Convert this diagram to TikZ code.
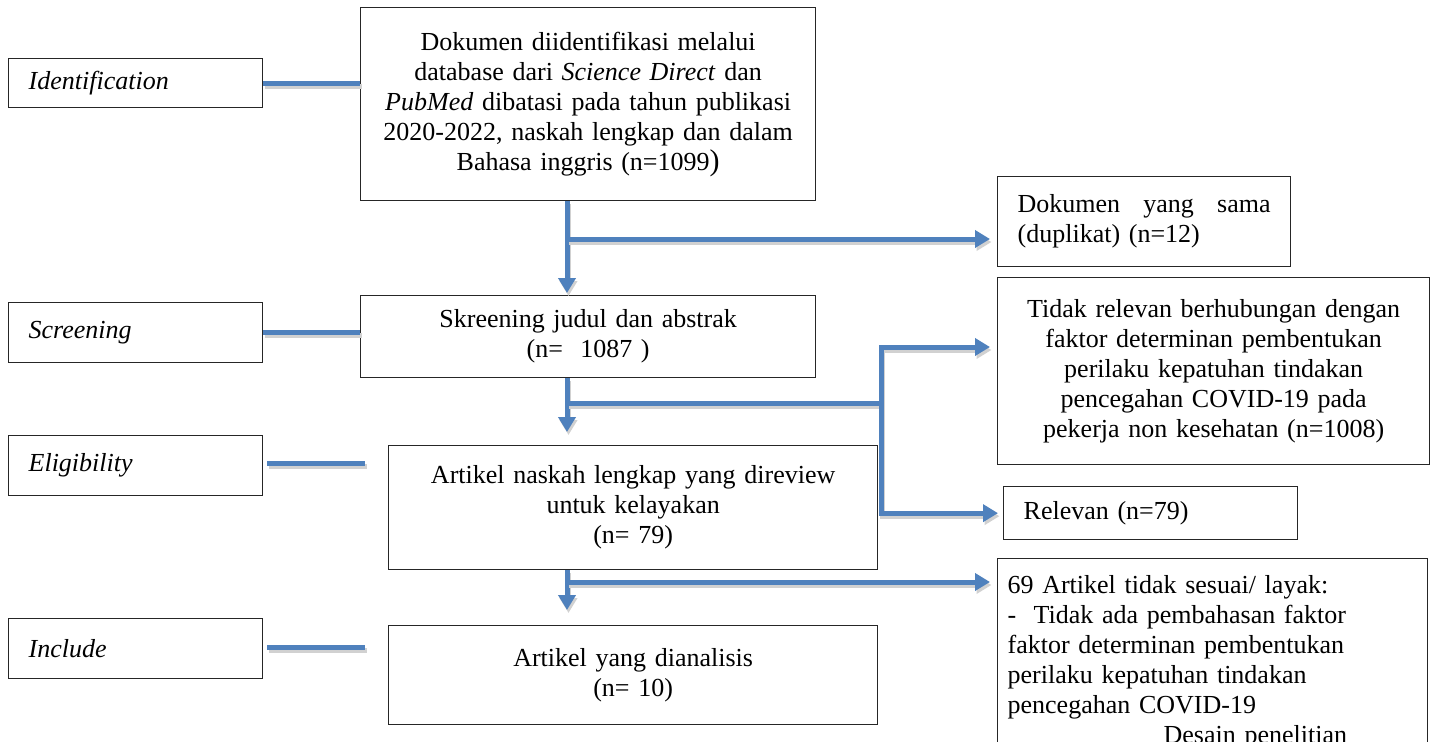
\documentclass[tikz,border=0pt]{standalone}
\usepackage{fontspec}
\setmainfont{Liberation Serif}
\usetikzlibrary{arrows.meta,calc}
\definecolor{lineblue}{RGB}{79,129,189}
\newcommand{\fsz}{\fontsize{26}{30}\selectfont}
\begin{document}
\begin{tikzpicture}[x=1pt,y=-1pt,
  box/.style={draw=black!85, line width=1.3pt, inner sep=0pt, font=\fsz, anchor=north west},
  lab/.style={box, minimum width=254pt, text width=214pt, align=left, font=\fsz\itshape},
  flow/.style={draw=lineblue, line width=5pt,
    preaction={draw=black!18, line width=5pt, transform canvas={shift={(1.5pt,-3pt)}}}},
  tip/.style={-{Triangle[length=15pt,width=17pt]}},
]
\useasboundingbox (0,0) rectangle (1436,742);
\clip (0,0) rectangle (1436,742);

% stage labels
\node[lab, minimum height=49pt] (idl) at (8,58) {Identification};
\node[lab, minimum height=60pt] (scr) at (8,302) {Screening};
\node[lab, minimum height=60pt] (elig) at (8,435) {Eligibility};
\node[lab, minimum height=60pt] (inc) at (8,618) {Include};

% main column
\node[box, minimum width=455pt, minimum height=193pt, text width=440pt, align=center] (main1) at (360,7)
  {Dokumen diidentifikasi melalui\\ database dari \textit{Science Direct} dan\\ \textit{PubMed} dibatasi pada tahun publikasi\\ 2020-2022, naskah lengkap dan dalam\\ Bahasa inggris (n=1099{\fontsize{30}{30}\selectfont )}};
\node[box, minimum width=455pt, minimum height=82pt, text width=440pt, align=center] (main2) at (360,295)
  {Skreening judul dan abstrak\\ (n=~~1087 )};
\node[box, minimum width=489pt, minimum height=124pt, text width=470pt, align=center] (art) at (388,445)
  {Artikel naskah lengkap yang direview\\ untuk kelayakan\\ (n= 79)};
\node[box, minimum width=489pt, minimum height=99pt, text width=470pt, align=center] (ana) at (388,625)
  {Artikel yang dianalisis\\ (n= 10)};

% right column
\node[box, minimum width=293pt, minimum height=90pt, text width=253pt, align=left] (dup) at (997,176)
  {Dokumen\hfill yang\hfill sama\\ (duplikat) (n=12)};
\node[box, minimum width=432pt, minimum height=187pt, text width=420pt, align=center] (tid) at (997,277)
  {Tidak relevan berhubungan dengan\\ faktor determinan pembentukan\\ perilaku kepatuhan tindakan\\ pencegahan COVID-19 pada\\ pekerja non kesehatan (n=1008)\\[10pt]};
\node[box, minimum width=294pt, minimum height=53pt, text width=254pt, align=left] (rel) at (1003,486)
  {Relevan (n=79)};
\node[box, minimum width=430pt, text width=410pt, align=left, inner ysep=17pt] (six) at (997,558)
  {69 Artikel tidak sesuai/ layak:\\ -\ \ Tidak ada pembahasan faktor\\ faktor determinan pembentukan\\ perilaku kepatuhan tindakan\\ pencegahan COVID-19\\ \hspace*{156pt}Desain penelitian};

% helper coordinates
\coordinate (cx1) at (567,0);
\coordinate (cx2) at (881,0);
\coordinate (yb1) at (0,239);
\coordinate (yb2) at (0,403);
\coordinate (yt) at (0,347);
\coordinate (yb3) at (0,582);
\coordinate (e1) at (267,463);
\coordinate (e2) at (365,463);
\coordinate (i1) at (267,647);
\coordinate (i2) at (365,647);

% stage connectors
\draw[flow] (idl.east) -- (idl.east -| main1.west);
\draw[flow] (scr.east) -- (scr.east -| main2.west);
\draw[flow] (e1) -- (e2);
\draw[flow] (i1) -- (i2);

% main flow
\draw[flow, tip, shorten >=2pt] (cx1 |- main1.south) -- (cx1 |- main2.north);
\draw[flow, tip, shorten >=7pt] (cx1 |- yb1) -- (dup.west |- yb1);
\draw[flow, tip, shorten >=13pt] (cx1 |- main2.south) -- (cx1 |- art.north);
\draw[flow] (cx1 |- yb2) -- (cx2 |- yb2);
\draw[flow, {Triangle[length=15pt,width=17pt]}-{Triangle[length=15pt,width=17pt]}, shorten <=7pt, shorten >=5pt]
  (tid.west |- yt) -- (cx2 |- yt) -- (cx2 |- rel.west) -- (rel.west);
\draw[flow, tip, shorten >=15pt] (cx1 |- art.south) -- (cx1 |- ana.north);
\draw[flow, tip, shorten >=7pt] (cx1 |- yb3) -- (six.west |- yb3);
\end{tikzpicture}
\end{document}
